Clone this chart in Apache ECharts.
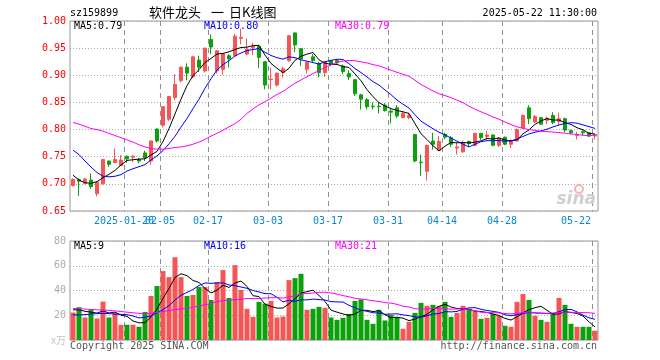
<!DOCTYPE html>
<html><head><meta charset="utf-8">
<script src="https://cdn.jsdelivr.net/npm/echarts@6/dist/echarts.min.js"></script>
<style>html,body{margin:0;padding:0;background:#fff}#c{width:660px;height:360px}</style>
</head><body><div id="c"></div>
<script>
const dates = ['2025-01-07','2025-01-08','2025-01-09','2025-01-10','2025-01-13','2025-01-14','2025-01-15','2025-01-16','2025-01-17','2025-01-20','2025-01-21','2025-01-22','2025-01-23','2025-01-24','2025-01-27',
'2025-02-05','2025-02-06','2025-02-07','2025-02-10','2025-02-11','2025-02-12','2025-02-13','2025-02-14','2025-02-17','2025-02-18','2025-02-19','2025-02-20','2025-02-21','2025-02-24','2025-02-25','2025-02-26','2025-02-27','2025-02-28',
'2025-03-03','2025-03-04','2025-03-05','2025-03-06','2025-03-07','2025-03-10','2025-03-11','2025-03-12','2025-03-13','2025-03-14','2025-03-17','2025-03-18','2025-03-19','2025-03-20','2025-03-21','2025-03-24','2025-03-25','2025-03-26','2025-03-27','2025-03-28','2025-03-31',
'2025-04-01','2025-04-02','2025-04-03','2025-04-07','2025-04-08','2025-04-09','2025-04-10','2025-04-11','2025-04-14','2025-04-15','2025-04-16','2025-04-17','2025-04-18','2025-04-21','2025-04-22','2025-04-23','2025-04-24','2025-04-25','2025-04-28','2025-04-29','2025-04-30',
'2025-05-06','2025-05-07','2025-05-08','2025-05-09','2025-05-12','2025-05-13','2025-05-14','2025-05-15','2025-05-16','2025-05-19','2025-05-20','2025-05-21','2025-05-22'];

const opens = [0.697,0.708,0.701,0.707,0.682,0.700,0.742,0.739,0.734,0.751,0.749,0.745,0.757,0.742,0.801,
0.808,0.819,0.859,0.890,0.915,0.897,0.928,0.908,0.966,0.908,0.911,0.936,0.936,0.968,0.939,0.951,0.953,0.925,
0.892,0.882,0.905,0.927,0.978,0.949,0.911,0.934,0.922,0.905,0.927,0.927,0.917,0.903,0.892,0.864,0.855,0.843,0.843,0.845,0.834,
0.840,0.822,0.822,0.791,0.740,0.723,0.779,0.762,0.791,0.785,0.766,0.759,0.778,0.771,0.793,0.787,0.790,0.771,0.786,0.773,0.779,
0.803,0.840,0.814,0.822,0.817,0.826,0.815,0.820,0.798,0.789,0.796,0.794,0.788];
const closes = [0.708,0.705,0.709,0.695,0.703,0.745,0.736,0.745,0.744,0.746,0.751,0.742,0.748,0.779,0.779,
0.842,0.861,0.883,0.915,0.904,0.934,0.915,0.950,0.952,0.945,0.939,0.930,0.972,0.970,0.948,0.953,0.933,0.882,
0.893,0.904,0.912,0.973,0.956,0.930,0.924,0.927,0.905,0.925,0.920,0.923,0.907,0.897,0.866,0.856,0.842,0.842,0.842,0.835,0.832,
0.825,0.830,0.826,0.742,0.739,0.771,0.773,0.778,0.786,0.773,0.768,0.776,0.774,0.793,0.785,0.790,0.771,0.784,0.773,0.778,0.800,
0.826,0.820,0.824,0.810,0.821,0.813,0.820,0.799,0.794,0.791,0.794,0.788,0.791];
const lows = [0.695,0.678,0.699,0.691,0.677,0.699,0.731,0.738,0.733,0.739,0.740,0.738,0.742,0.735,0.776,
0.804,0.816,0.854,0.887,0.891,0.895,0.906,0.905,0.939,0.903,0.901,0.914,0.934,0.957,0.937,0.937,0.913,0.874,
0.874,0.879,0.896,0.925,0.943,0.917,0.903,0.924,0.896,0.897,0.917,0.921,0.902,0.891,0.862,0.837,0.837,0.837,0.830,0.833,0.811,
0.821,0.821,0.819,0.740,0.715,0.706,0.763,0.760,0.782,0.768,0.754,0.757,0.768,0.769,0.781,0.781,0.769,0.768,0.771,0.766,0.778,
0.801,0.810,0.812,0.808,0.810,0.810,0.807,0.795,0.791,0.782,0.788,0.786,0.782];
const highs = [0.710,0.710,0.711,0.719,0.705,0.746,0.743,0.765,0.753,0.752,0.753,0.748,0.761,0.780,0.802,
0.843,0.862,0.902,0.916,0.922,0.936,0.936,0.951,0.975,0.946,0.940,0.939,0.976,0.986,0.968,0.960,0.955,0.926,
0.914,0.905,0.916,0.974,0.979,0.950,0.925,0.939,0.925,0.926,0.928,0.930,0.920,0.909,0.893,0.866,0.858,0.850,0.851,0.849,0.840,
0.845,0.834,0.831,0.792,0.754,0.772,0.794,0.788,0.794,0.788,0.776,0.780,0.780,0.794,0.794,0.798,0.791,0.786,0.787,0.782,0.802,
0.828,0.845,0.827,0.823,0.824,0.832,0.831,0.822,0.800,0.796,0.799,0.795,0.792];

const volumes = [22.2,26.5,18.2,24.4,17.4,31.0,18.2,21.7,12.3,12.3,12.3,10.7,22.7,35.6,43.6,
55.7,50.8,66.9,50.8,35.6,36.4,42.8,42.8,32.4,46.8,56.5,34.0,60.5,40.4,25.2,18.7,30.8,29.4,
31.6,18.2,19.0,48.4,50.0,53.5,24.4,25.2,26.8,26.0,18.2,16.3,17.9,21.1,31.6,32.9,16.3,13.1,24.4,15.8,20.3,
18.5,9.1,14.7,21.9,30.0,27.6,28.4,27.6,30.8,18.7,21.9,27.6,25.2,23.5,17.1,17.9,21.1,19.5,11.5,10.7,30.8,
37.2,32.4,19.5,16.3,14.7,21.1,34.0,28.4,13.1,10.7,10.7,10.7,7.5];

// moving-average values visible at the left edge (window starts before the first shown day)
const priceMa5Head = [0.716,0.707,0.702,0.701];
const priceMa10Head = [0.762,0.754,0.742,0.731,0.721,0.714,0.713,0.714,0.717];
const priceMa30Head = [0.813,0.810,0.806,0.802,0.800,0.797,0.793,0.789,0.785,0.781,0.777,0.772,0.768,0.765,0.764,0.764,0.765,0.767,0.768,0.770,0.773,0.777,0.782,0.788,0.793,0.799,0.805,0.811,0.819];
const volMa5Head = [24.4,24.4,23.2,22.5];
const volMa10Head = [20.3,20.3,20.5,21.0,21.3,21.5,21.3,21.0,20.7];
const volMa30Head = [25.5,25.3,25.0,24.7,24.4,24.2,24.0,23.5,23.0,22.5,22.0,21.5,21.0,21.5,22.2,23.0,23.8,24.5,25.0,25.5,26.5,27.5,28.5,29.5,31.0,31.8,32.2,32.6,32.9];

const tickIndex = [9,15,23,33,43,53,62,72,87];
const tickLabels = ['2025-01-20','02-05','02-17','03-03','03-17','03-31','04-14','04-28','05-22'];

const RED = '#f65555', GREEN = '#0ca00c';
const MONO = '"DejaVu Sans Mono", "Liberation Mono", monospace';

function movingAvg(vals, n, head) {
  return vals.map((v, i) => {
    if (i < n - 1) return head[i];
    let s = 0; for (let j = i - n + 1; j <= i; j++) s += vals[j];
    return +(s / n).toFixed(4);
  });
}
const pMa5 = movingAvg(closes, 5, priceMa5Head);
const pMa10 = movingAvg(closes, 10, priceMa10Head);
const pMa30 = movingAvg(closes, 30, priceMa30Head);
const vMa5 = movingAvg(volumes, 5, volMa5Head);
const vMa10 = movingAvg(volumes, 10, volMa10Head);
const vMa30 = movingAvg(volumes, 30, volMa30Head);

const candles = dates.map((d, i) => [opens[i], closes[i], lows[i], highs[i]]);
const volData = volumes.map((v, i) => ({ value: v, itemStyle: { color: closes[i] >= opens[i] ? RED : GREEN } }));

const splitY = { show: true, lineStyle: { color: '#aaa', type: [1, 2], width: 1 } };

function lineSeries(data, color, xi, yi) {
  return { type: 'line', data, xAxisIndex: xi, yAxisIndex: yi, symbol: 'none', silent: true,
    lineStyle: { color, width: 1 }, itemStyle: { color }, z: 5 };
}
function txt(text, x, y, fill, font, align) {
  return { type: 'text', silent: true, z: 100, style: { text, x, y, fill, font: font || ('10px ' + MONO), align: align || 'left', verticalAlign: 'middle' } };
}

const chart = echarts.init(document.getElementById('c'), null, { renderer: 'canvas' });
const baseGraphic = [
  txt('sz159899', 70, 13, '#000'),
  txt('软件龙头', 149, 12, '#000', '13px "Noto Sans CJK SC"'),
  txt('一', 211, 12, '#000', '13px "Noto Sans CJK SC"'),
  txt('日K线图', 229, 12, '#000', '13px "Noto Sans CJK SC"'),
  txt('2025-05-22 11:30:00', 597, 13, '#000', null, 'right'),
  txt('MA5:' + pMa5[pMa5.length - 1].toFixed(2), 74, 26, '#000'),
  txt('MA10:' + pMa10[pMa10.length - 1].toFixed(2), 204, 26, '#0000ff'),
  txt('MA30:' + pMa30[pMa30.length - 1].toFixed(2), 335, 26, '#ff00ff'),
  txt('MA5:9', 74, 246, '#000'),
  txt('MA10:16', 204, 246, '#0000ff'),
  txt('MA30:21', 335, 246, '#ff00ff'),
  txt('Copyright 2025 SINA.COM', 70, 346, '#555'),
  txt('http://finance.sina.com.cn', 597, 346, '#555', null, 'right'),
  { type: 'circle', silent: true, z: 1, shape: { cx: 579, cy: 189, r: 4 }, style: { fill: 'none', stroke: '#f3b4b4', lineWidth: 2 } },
  txt('sina', 596, 200, '#cfcfcf', 'italic bold 17px "DejaVu Sans"', 'right')
];
chart.setOption({
  animation: false,
  backgroundColor: '#fff',
  grid: [
    { left: 70, top: 21, width: 528, height: 190, show: true, borderColor: '#999', borderWidth: 1, backgroundColor: 'transparent', containLabel: false, outerBoundsMode: 'none' },
    { left: 70, top: 241, width: 528, height: 99, show: true, borderColor: '#999', borderWidth: 1, backgroundColor: 'transparent', containLabel: false, outerBoundsMode: 'none' }
  ],
  xAxis: [
    { type: 'category', gridIndex: 0, data: dates, boundaryGap: true,
      axisLine: { show: false }, axisTick: { show: false }, splitLine: { show: false }, axisLabel: { show: false } },
    { type: 'category', gridIndex: 1, data: dates, boundaryGap: true,
      axisLine: { show: false }, axisTick: { show: false }, axisLabel: { show: false }, splitLine: { show: false } }
  ],
  yAxis: [
    { type: 'value', gridIndex: 0, min: 0.65, max: 1.00, interval: 0.05, scale: true,
      axisLine: { show: false }, axisTick: { show: false }, splitLine: splitY,
      axisLabel: { color: '#f00', fontFamily: MONO, fontSize: 10, margin: 4, formatter: (v) => v.toFixed(2) } },
    { type: 'value', gridIndex: 1, min: 0, max: 80, interval: 20,
      axisLine: { show: false }, axisTick: { show: false }, splitLine: splitY,
      axisLabel: { fontFamily: MONO + ', "Noto Sans CJK SC"', fontSize: 10, margin: 4,
        formatter: (v) => v === 0 ? '{u|x万}' : String(v), color: '#aaa', rich: { u: { color: '#c4c4c4', fontSize: 10, fontFamily: '"Noto Sans CJK SC"' } } } }
  ],
  series: [
    { type: 'candlestick', xAxisIndex: 0, yAxisIndex: 0, data: candles, barWidth: 4, silent: true,
      itemStyle: { color: RED, color0: GREEN, borderColor: RED, borderColor0: GREEN, borderWidth: 1 } },
    lineSeries(pMa5, '#000', 0, 0),
    lineSeries(pMa10, '#0000ff', 0, 0),
    lineSeries(pMa30, '#ff00ff', 0, 0),
    { type: 'bar', xAxisIndex: 1, yAxisIndex: 1, data: volData, barWidth: 5, silent: true },
    lineSeries(vMa5, '#000', 1, 1),
    lineSeries(vMa10, '#0000ff', 1, 1),
    lineSeries(vMa30, '#ff00ff', 1, 1)
  ],
  graphic: baseGraphic
});

// date labels and vertical date grid lines at category boundaries, positioned through the axis scales
const bandHalf = (chart.convertToPixel({ xAxisIndex: 0 }, 1) - chart.convertToPixel({ xAxisIndex: 0 }, 0)) / 2;
const topY0 = chart.convertToPixel({ yAxisIndex: 0 }, 1.00), topY1 = chart.convertToPixel({ yAxisIndex: 0 }, 0.65);
const botY0 = chart.convertToPixel({ yAxisIndex: 1 }, 80), botY1 = chart.convertToPixel({ yAxisIndex: 1 }, 0);
const extra = [];
tickIndex.forEach((idx, i) => {
  const x = chart.convertToPixel({ xAxisIndex: 0 }, idx) - bandHalf;
  const xc = Math.round(x) + 0.5;
  const last = i === tickIndex.length - 1;
  extra.push(txt(tickLabels[i], last ? x - 1 : x, 221, '#0a85d0', null, last ? 'right' : 'center'));
  [[topY0, topY1], [botY0, botY1]].forEach(([a, b]) => {
    extra.push({ type: 'line', silent: true, z: 1, shape: { x1: xc, y1: a, x2: xc, y2: b },
      style: { stroke: '#909090', lineWidth: 1, lineDash: [5, 4] } });
  });
});
chart.setOption({ graphic: baseGraphic.concat(extra) }, { replaceMerge: ['graphic'] });
</script></body></html>
